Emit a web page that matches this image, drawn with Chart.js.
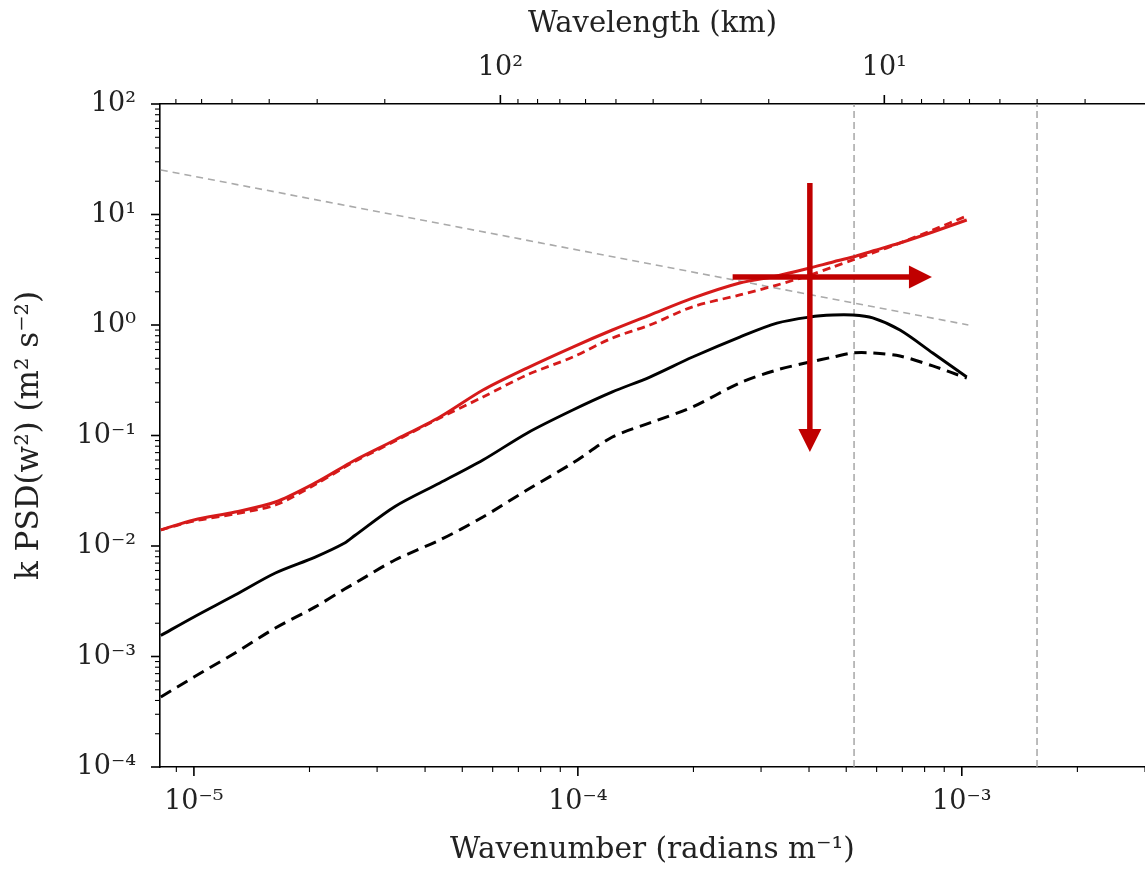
<!DOCTYPE html>
<html lang="en">
<head>
<meta charset="UTF-8">
<title>Wavenumber spectrum</title>
<script src="https://cdn.jsdelivr.net/npm/chart.js"></script>
<style>
  html, body { margin: 0; padding: 0; background: #fff; overflow: hidden; }
  #wrap { width: 1145px; height: 870px; }
  canvas { display: block; }
</style>
</head>
<body>
<div id="wrap"><canvas id="psdChart"></canvas></div>
<script>
// wavenumber (radians m^-1)
const wavenumber = [8.2e-6, 1.0e-5, 1.28e-5, 1.63e-5, 2.07e-5, 2.47e-5, 2.63e-5, 3.34e-5,
  4.37e-5, 5.66e-5, 7.37e-5, 9.7e-5, 1.23e-4, 1.54e-4, 1.99e-4, 2.64e-4, 3.3e-4,
  4.02e-4, 4.62e-4, 5.2e-4, 5.86e-4, 6.9e-4, 8.4e-4, 1.03e-3];

const redSolid = [0.0140, 0.0172, 0.0203, 0.0250, 0.0372, 0.053, 0.0600, 0.0910,
  0.147, 0.258, 0.408, 0.632, 0.901, 1.23, 1.75, 2.40, 2.78,
  3.28, 3.72, 4.12, 4.67, 5.52, 6.94, 8.92];
const redDashed = [0.0140, 0.0168, 0.0195, 0.0235, 0.0360, 0.0517, 0.0585, 0.0890,
  0.144, 0.223, 0.353, 0.513, 0.762, 1.00, 1.46, 1.87, 2.30,
  2.83, 3.35, 3.88, 4.48, 5.52, 7.24, 9.69];
const blackSolid = [0.00155, 0.00228, 0.00360, 0.00570, 0.00794, 0.01064, 0.0125, 0.0228,
  0.0372, 0.0600, 0.105, 0.170, 0.248, 0.338, 0.513, 0.778, 1.04,
  1.18, 1.23, 1.23, 1.16, 0.901, 0.558, 0.338];
const blackDashed = [4.30e-4, 6.52e-4, 1.076e-3, 1.81e-3, 2.81e-3, 4.08e-3, 4.62e-3, 7.47e-3,
  0.01133, 0.01829, 0.0321, 0.0564, 0.0969, 0.130, 0.181, 0.299, 0.392,
  0.462, 0.513, 0.558, 0.558, 0.524, 0.426, 0.331];

// grey k^(-2/3) reference line (end points)
const slopeK = [8.2e-6, 1.04e-3];
const slopeV = [25.3, 1.0];

// vertical dashed cut-offs (12 km and 4 km)
const cutoffK = [5.24e-4, 1.57e-3];

// red annotation arrows
const arrowDownK = 4.02e-4;
const arrowDownV = [19.3, 0.071];
const arrowRightV = 2.72;
const arrowRightK = [2.53e-4, 8.36e-4];

// axes
const xMin = 8.16e-6, xMax = 3.0e-3;
const yMin = 1e-4, yMax = 1e2;
const xMajor = [1e-5, 1e-4, 1e-3];
const xMajorLabels = ['10⁻⁵', '10⁻⁴', '10⁻³'];
const yMajor = [1e-4, 1e-3, 1e-2, 1e-1, 1, 10, 100];
const yMajorLabels = ['10⁻⁴', '10⁻³', '10⁻²', '10⁻¹', '10⁰', '10¹', '10²'];
const wavelengthKm = [800, 700, 600, 500, 400, 300, 200, 100, 90, 80, 70, 60, 50, 40, 30, 20,
  10, 9, 8, 7, 6, 5, 4, 3, 2];
const wavelengthLabels = { 100: '10²', 10: '10¹' };

function pts(xs, ys) { return xs.map((x, i) => ({ x: x, y: ys[i] })); }

function logTicks(min, max) {
  const out = [];
  for (let d = -7; d <= 3; d++) {
    for (let m = 1; m <= 9; m++) {
      const v = m * Math.pow(10, d);
      if (v >= min * 0.999 && v <= max * 1.001) out.push({ value: v, major: m === 1 });
    }
  }
  return out;
}

function nearest(list, v) {
  return list.findIndex(t => Math.abs(t / v - 1) < 1e-6);
}

const kmTicks = wavelengthKm.map(l => ({ value: 2 * Math.PI / (l * 1000), major: l === 100 || l === 10, km: l }))
  .filter(t => t.value >= xMin && t.value <= xMax)
  .sort((a, b) => a.value - b.value);

const datasets = [
  { data: pts(wavenumber, redSolid), borderColor: '#d61a1a', borderWidth: 3, order: 1 },
  { data: pts(wavenumber, redDashed), borderColor: '#d61a1a', borderWidth: 2.8, borderDash: [8, 5], order: 1 },
  { data: pts(wavenumber, blackSolid), borderColor: '#000', borderWidth: 2.9, order: 1 },
  { data: pts(wavenumber, blackDashed), borderColor: '#000', borderWidth: 3, borderDash: [12, 7], order: 1 },
  { data: pts(slopeK, slopeV), borderColor: '#aaaaaa', borderWidth: 1.6, borderDash: [7, 5], tension: 0, order: 3 }
];
cutoffK.forEach(k => {
  datasets.push({ data: [{ x: k, y: yMin }, { x: k, y: yMax }], borderColor: '#999999', borderWidth: 1.3,
    borderDash: [7, 4], tension: 0, order: 3 });
});

const tickMarks = {
  id: 'tickMarks',
  afterDraw(chart) {
    const ctx = chart.ctx;
    ctx.save();
    ctx.strokeStyle = '#000';
    ['x', 'x2', 'y'].forEach(id => {
      const s = chart.scales[id];
      s.ticks.forEach(t => {
        const p = s.getPixelForValue(t.value);
        const len = t.major ? 9 : 5;
        ctx.lineWidth = t.major ? 1.6 : 1.1;
        ctx.beginPath();
        if (id === 'y') {
          ctx.moveTo(s.right, p); ctx.lineTo(s.right - len, p);
        } else if (id === 'x') {
          ctx.moveTo(p, s.top); ctx.lineTo(p, s.top + len);
        } else {
          ctx.moveTo(p, s.bottom); ctx.lineTo(p, s.bottom - len);
        }
        ctx.stroke();
      });
    });
    ctx.restore();
  }
};

const arrows = {
  id: 'arrows',
  afterDatasetsDraw(chart) {
    const x = chart.scales.x, y = chart.scales.y, ctx = chart.ctx;
    const head = 23, half = 11.5;
    ctx.save();
    ctx.strokeStyle = '#c00000';
    ctx.fillStyle = '#c00000';
    ctx.lineWidth = 5.5;
    // downward arrow
    const dx = x.getPixelForValue(arrowDownK);
    const dy0 = y.getPixelForValue(arrowDownV[0]);
    const dy1 = y.getPixelForValue(arrowDownV[1]);
    ctx.beginPath(); ctx.moveTo(dx, dy0); ctx.lineTo(dx, dy1 - head + 1); ctx.stroke();
    ctx.beginPath(); ctx.moveTo(dx - half, dy1 - head); ctx.lineTo(dx + half, dy1 - head); ctx.lineTo(dx, dy1); ctx.closePath(); ctx.fill();
    // rightward arrow
    const ry = y.getPixelForValue(arrowRightV);
    const rx0 = x.getPixelForValue(arrowRightK[0]);
    const rx1 = x.getPixelForValue(arrowRightK[1]);
    ctx.beginPath(); ctx.moveTo(rx0, ry); ctx.lineTo(rx1 - head + 1, ry); ctx.stroke();
    ctx.beginPath(); ctx.moveTo(rx1 - head, ry - half); ctx.lineTo(rx1 - head, ry + half); ctx.lineTo(rx1, ry); ctx.closePath(); ctx.fill();
    ctx.restore();
  }
};

// keep the plot area flush with the canvas edges
function noSidePad(s) { s.paddingLeft = 0; s.paddingRight = 0; }
function noEndPad(s) { s.paddingTop = 0; s.paddingBottom = 0; }

Chart.defaults.font.family = 'DejaVu Serif';
Chart.defaults.color = '#222';

new Chart(document.getElementById('psdChart'), {
  type: 'line',
  data: { datasets: datasets },
  options: {
    responsive: true,
    maintainAspectRatio: false,
    animation: false,
    layout: { padding: 0 },
    elements: { point: { radius: 0 }, line: { tension: 0.3, fill: false } },
    plugins: { legend: { display: false }, tooltip: { enabled: false } },
    scales: {
      x: {
        type: 'logarithmic', position: 'bottom', min: xMin, max: xMax,
        afterBuildTicks: s => { s.ticks = logTicks(xMin, xMax); },
        afterFit: s => { s.height = 103; noSidePad(s); },
        grid: { display: true, drawOnChartArea: false, drawTicks: false },
        border: { display: true, color: '#000', width: 1.6 },
        ticks: {
          autoSkip: false, maxRotation: 0, padding: 19, color: '#222',
          font: { size: 27 },
          callback: v => { const i = nearest(xMajor, v); return i >= 0 ? xMajorLabels[i] : ''; }
        },
        title: { display: true, text: 'Wavenumber (radians m⁻¹)', color: '#222', font: { size: 29.5 }, padding: { bottom: 2 } }
      },
      x2: {
        type: 'logarithmic', position: 'top', min: xMin, max: xMax,
        afterBuildTicks: s => { s.ticks = kmTicks.map(t => ({ value: t.value, major: t.major, km: t.km })); },
        afterFit: s => { s.height = 104; noSidePad(s); },
        grid: { display: true, drawOnChartArea: false, drawTicks: false },
        border: { display: true, color: '#000', width: 1.6 },
        ticks: {
          autoSkip: false, maxRotation: 0, padding: 20, color: '#222',
          font: { size: 27 },
          callback: (v, i) => { const t = kmTicks[i]; return t && wavelengthLabels[t.km] ? wavelengthLabels[t.km] : ''; }
        },
        title: { display: true, text: 'Wavelength (km)', color: '#222', font: { size: 29 }, padding: { top: 7 } }
      },
      y: {
        type: 'logarithmic', position: 'left', min: yMin, max: yMax,
        afterBuildTicks: s => { s.ticks = logTicks(yMin, yMax); },
        afterFit: s => { s.width = 160; noEndPad(s); },
        grid: { display: true, drawOnChartArea: false, drawTicks: false },
        border: { display: true, color: '#000', width: 1.6 },
        ticks: {
          autoSkip: false, padding: 24, color: '#222',
          font: { size: 27 },
          callback: v => { const i = nearest(yMajor, v); return i >= 0 ? yMajorLabels[i] : ''; }
        },
        title: { display: true, text: 'k PSD(w²) (m² s⁻²)', color: '#222', font: { size: 31 }, padding: { top: 11 } }
      }
    }
  },
  plugins: [tickMarks, arrows]
});
</script>
</body>
</html>
